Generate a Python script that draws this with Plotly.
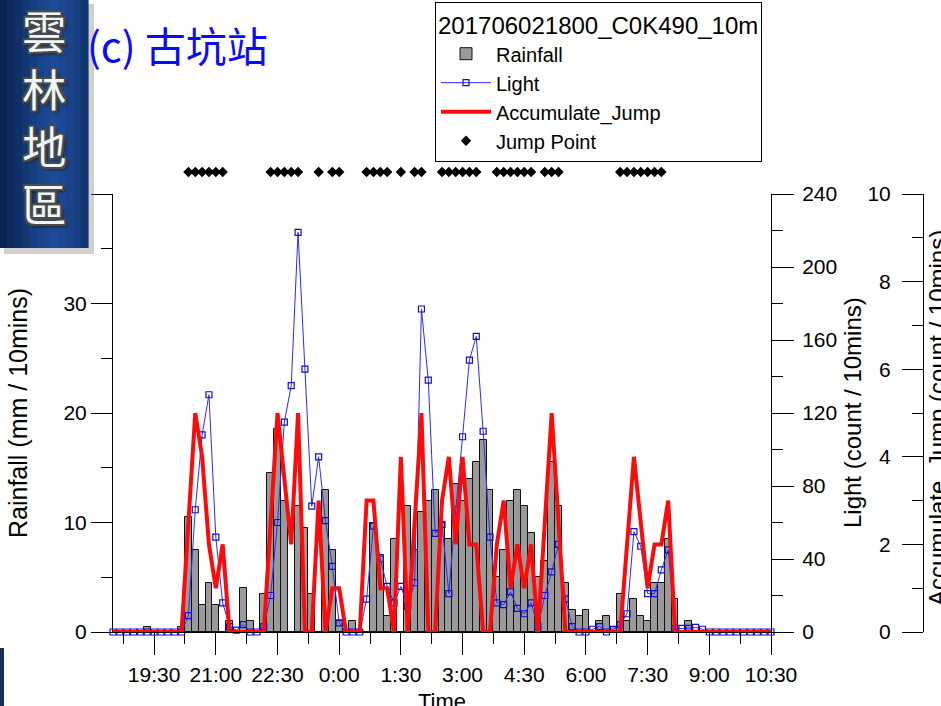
import plotly.graph_objects as go
import pandas as pd

# ---------------- data ----------------
times = pd.date_range("2017-06-02 18:30", "2017-06-03 10:30", freq="10min")

rainfall = [0, 0, 0, 0, 0, 0.5, 0, 0, 0, 0,
            0.5, 10.5, 7.5, 2.5, 4.5, 2.5, 0, 1.0, 0, 4.0,
            1.0, 0, 3.5, 14.5, 18.5, 12.0, 0, 11.5, 9.5, 3.5,
            0, 13.0, 7.5, 1.0, 0, 1.0, 0, 0, 10.0, 7.0,
            1.5, 8.5, 0, 11.5, 7.5, 11.0, 12.0, 13.0, 10.0, 8.5,
            13.5, 12.0, 14.0, 15.5, 17.5, 13.0, 5.0, 7.5, 12.0, 13.0,
            11.5, 9.0, 5.0, 6.5, 15.5, 11.5, 4.5, 2.0, 1.5, 2.0,
            0, 1.0, 1.5, 0.5, 3.5, 1.0, 3.0, 1.5, 1.0, 4.5,
            4.5, 8.5, 3.0, 0, 1.0, 0, 0, 0, 0, 0,
            0, 0, 0, 0, 0, 0, 0]

light = [0, 0, 0, 0, 0, 0, 0, 0, 0, 0,
         0, 9, 67, 108, 130, 52, 16, 3, 1, 4,
         0, 0, 3, 20, 60, 115, 135, 219, 144, 69,
         96, 61, 36, 5, 0, 0, 0, 18, 58, 40,
         25, 16, 25, 14, 27, 177, 138, 54, 59, 21,
         67, 107, 149, 162, 110, 52, 16, 15, 22, 13,
         10, 16, 3, 20, 33, 48, 18, 3, 0, 0,
         1.5, 3, 0, 1.5, 4, 10, 55, 47, 21, 21,
         34, 45, 2, 2, 2, 2.5, 1.5, 0, 0, 0,
         0, 0, 0, 0, 0, 0, 0]

accumulate_jump = [0, 0, 0, 0, 0, 0, 0, 0, 0, 0,
                   0, 2.5, 5, 4, 2, 1, 2, 0, 0, 0,
                   0, 0, 0, 2.5, 5, 3.5, 2, 5, 0, 0,
                   3, 0, 1, 1, 0, 0, 0, 3, 3, 1,
                   1, 0, 4, 0, 2.5, 5, 0, 0, 3, 4,
                   2, 4, 2, 2, 0, 0, 2, 3, 1, 2,
                   1, 2, 0, 2.5, 5, 2.5, 0, 0, 0, 0,
                   0, 0, 0, 0, 0, 2, 4, 2.5, 1, 2,
                   2, 3, 0, 0, 0, 0, 0, 0, 0, 0,
                   0, 0, 0, 0, 0, 0, 0]

jump_times = ["2017-06-02 20:20", "2017-06-02 20:30", "2017-06-02 20:40", "2017-06-02 20:50",
              "2017-06-02 21:00", "2017-06-02 21:10",
              "2017-06-02 22:20", "2017-06-02 22:30", "2017-06-02 22:40", "2017-06-02 22:50",
              "2017-06-02 23:00",
              "2017-06-02 23:30",
              "2017-06-02 23:50", "2017-06-03 00:00",
              "2017-06-03 00:40", "2017-06-03 00:50", "2017-06-03 01:00", "2017-06-03 01:10",
              "2017-06-03 01:30",
              "2017-06-03 01:50", "2017-06-03 02:00",
              "2017-06-03 02:30", "2017-06-03 02:40", "2017-06-03 02:50", "2017-06-03 03:00",
              "2017-06-03 03:10", "2017-06-03 03:20",
              "2017-06-03 03:50", "2017-06-03 04:00", "2017-06-03 04:10", "2017-06-03 04:20",
              "2017-06-03 04:30", "2017-06-03 04:40",
              "2017-06-03 05:00", "2017-06-03 05:10", "2017-06-03 05:20",
              "2017-06-03 06:50", "2017-06-03 07:00", "2017-06-03 07:10", "2017-06-03 07:20",
              "2017-06-03 07:30", "2017-06-03 07:40", "2017-06-03 07:50"]
jump_level = [1] * len(jump_times)

x_major_ticks = ["2017-06-02 19:30", "2017-06-02 21:00", "2017-06-02 22:30", "2017-06-03 00:00",
                 "2017-06-03 01:30", "2017-06-03 03:00", "2017-06-03 04:30", "2017-06-03 06:00",
                 "2017-06-03 07:30", "2017-06-03 09:00", "2017-06-03 10:30"]
x_major_labels = ["19:30", "21:00", "22:30", "0:00", "1:30", "3:00", "4:30", "6:00",
                  "7:30", "9:00", "10:30"]
x_minor_ticks = ["2017-06-02 18:45", "2017-06-02 20:15", "2017-06-02 21:45", "2017-06-02 23:15",
                 "2017-06-03 00:45", "2017-06-03 02:15", "2017-06-03 03:45", "2017-06-03 05:15",
                 "2017-06-03 06:45", "2017-06-03 08:15", "2017-06-03 09:45"]
x_range = ["2017-06-02 18:30", "2017-06-03 10:30"]

rain_ticks = [0, 10, 20, 30, 40]
rain_labels = ["0", "10", "20", "30", ""]
light_ticks = [0, 40, 80, 120, 160, 200, 240]
accum_ticks = [0, 2, 4, 6, 8, 10]

# ---------------- geometry helpers (pixels -> paper) ----------------
W, H = 941, 706
ML, MB = 113, 74
PW, PH = W - ML, H - MB


def px(x):
    return (x - ML) / PW


def py(y):
    return (PH - y) / PH


FONT = "Liberation Sans, Arial, Helvetica, sans-serif"
CJK = "Noto Sans CJK TC, Noto Sans CJK SC, sans-serif"

fig = go.Figure()
fig.add_trace(go.Bar(
    x=times, y=rainfall, name="Rainfall", width=600000,
    marker=dict(color="#9a9a9a", line=dict(color="#111111", width=1)),
    yaxis="y"))
fig.add_trace(go.Scatter(
    x=times, y=light, name="Light", mode="lines+markers", yaxis="y2",
    line=dict(color="#2a2aff", width=1),
    marker=dict(symbol="square-open", size=6, color="#1010cc", line=dict(width=1.2)),
    cliponaxis=False))
fig.add_trace(go.Scatter(
    x=times, y=accumulate_jump, name="Accumulate_Jump", mode="lines", yaxis="y3",
    line=dict(color="#ff0a0a", width=4), cliponaxis=False))
fig.add_trace(go.Scatter(
    x=jump_times, y=jump_level, name="Jump Point", mode="markers", yaxis="y4",
    marker=dict(symbol="diamond", size=8, color="black")))

tickfont = dict(family=FONT, size=21, color="black")
common = dict(showgrid=False, zeroline=False, showline=True, linecolor="black",
              linewidth=1, ticks="outside", tickcolor="black", tickwidth=1,
              tickfont=tickfont, automargin=False)

fig.update_layout(
    template="none",
    width=W, height=H, autosize=False,
    margin=dict(l=ML, r=0, t=0, b=MB, pad=0, autoexpand=False),
    paper_bgcolor="white", plot_bgcolor="white",
    bargap=0,
    font=dict(family=FONT, color="black"),
    xaxis=dict(domain=[0, px(771)], type="date", range=x_range, anchor="y",
               tickmode="array", tickvals=x_major_ticks, ticktext=x_major_labels, ticklen=22,
               ticklabelstandoff=2,
               minor=dict(tickmode="array", tickvals=x_minor_ticks, ticklen=11,
                          ticks="outside", tickcolor="black"),
               **common),
    yaxis=dict(domain=[0, py(194)], range=[0, 40], anchor="x",
               tickmode="array", tickvals=rain_ticks, ticktext=rain_labels, ticklen=21,
               minor=dict(tickmode="array", tickvals=[5, 15, 25, 35], ticklen=11,
                          ticks="outside", tickcolor="black"),
               **common),
    yaxis2=dict(overlaying="y", side="right", anchor="x", range=[0, 240],
                tickmode="array", tickvals=light_ticks, ticklen=22, ticklabelstandoff=4,
                minor=dict(tickmode="array", tickvals=[20, 60, 100, 140, 180, 220],
                           ticklen=11, ticks="outside", tickcolor="black"),
                **common),
    yaxis3=dict(overlaying="y", side="left", anchor="free", position=px(923),
                range=[0, 10], tickmode="array", tickvals=accum_ticks, ticklen=21,
                ticklabelstandoff=7,
                minor=dict(tickmode="array", tickvals=[1, 3, 5, 7, 9], ticklen=11,
                           ticks="outside", tickcolor="black"),
                **common),
    yaxis4=dict(domain=[py(182), py(162)], range=[0, 2], anchor="x", visible=False,
                automargin=False),
    legend=dict(x=px(435), y=py(2), xanchor="left", yanchor="top",
                bordercolor="black", borderwidth=1, bgcolor="white",
                font=dict(family=FONT, size=20, color="black"),
                title=dict(text="201706021800_C0K490_10m",
                           font=dict(family=FONT, size=24, color="black")),
                itemwidth=50, tracegroupgap=0, traceorder="normal"),
)

ann = []
# axis titles
ann.append(dict(text="Rainfall (mm / 10mins)", x=px(18), y=py(413), xref="paper", yref="paper",
                textangle=-90, showarrow=False, font=dict(family=FONT, size=25, color="black"),
                xanchor="center", yanchor="middle"))
ann.append(dict(text="Light (count / 10mins)", x=px(853), y=py(413), xref="paper", yref="paper",
                textangle=-90, showarrow=False, font=dict(family=FONT, size=24, color="black"),
                xanchor="center", yanchor="middle"))
ann.append(dict(text="Accumulate_Jump (count / 10mins)", x=px(937), y=py(418), xref="paper",
                yref="paper", textangle=-90, showarrow=False,
                font=dict(family=FONT, size=24, color="black"),
                xanchor="center", yanchor="middle"))
ann.append(dict(text="Time", x=px(442), y=py(687), xref="paper", yref="paper",
                showarrow=False, font=dict(family=FONT, size=22, color="black"),
                xanchor="center", yanchor="top"))
# chart title
ann.append(dict(text="(c) 古坑站", x=px(85), y=py(44), xref="paper", yref="paper",
                showarrow=False, font=dict(family=CJK, size=41, color="#0a0aff"),
                xanchor="left", yanchor="middle"))

# logo box
shapes = []
shapes.append(dict(type="rect", xref="paper", yref="paper", x0=px(4), x1=px(94), y0=py(4), y1=py(254),
                   fillcolor="rgba(120,120,120,0.35)", line=dict(width=0), layer="above"))
stripe_cols = ["#0a2453", "#0d2a5f", "#10306a", "#133775", "#163d80", "#19438a",
               "#1b4892", "#1c4b97", "#1b4893", "#19448b", "#163e81", "#12366f"]
sw = 88 / len(stripe_cols)
for i, c in enumerate(stripe_cols):
    shapes.append(dict(type="rect", xref="paper", yref="paper", x0=px(i * sw), x1=px((i + 1) * sw + 0.6),
                       y0=py(0), y1=py(248), fillcolor=c, line=dict(width=0), layer="above"))
shapes.append(dict(type="rect", xref="paper", yref="paper", x0=px(0), x1=px(4), y0=py(648), y1=py(706),
                   fillcolor="#1b2d55", line=dict(width=0), layer="above"))
ann.append(dict(text="雲<br>林<br>地<br>區", x=px(44), y=py(116), xref="paper", yref="paper",
                showarrow=False, align="center",
                font=dict(family=CJK, size=44.4, color="#eef7f7",
                          shadow="-2px -2px 0 #4a4a4a, 2px -2px 0 #4a4a4a, -2px 2px 0 #4a4a4a, 2px 2px 0 #4a4a4a, 3px 3px 3px #222"),
                xanchor="center", yanchor="middle"))

fig.update_layout(annotations=ann, shapes=shapes)
fig.write_html("out.html", config={"displayModeBar": False},
               post_script="document.body.style.margin='0px';")
